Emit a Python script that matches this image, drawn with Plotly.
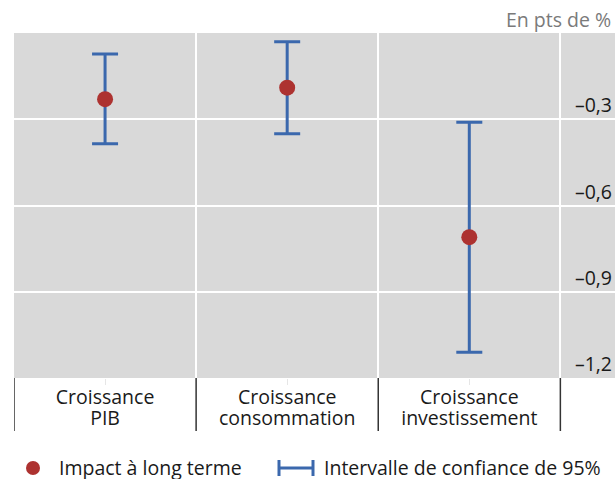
import plotly.graph_objects as go

# ---- data ----
categories = [["Croissance", "PIB"], ["Croissance", "consommation"], ["Croissance", "investissement"]]
impact = [-0.23, -0.19, -0.71]
ci_low = [-0.385, -0.35, -1.11]
ci_high = [-0.073, -0.03, -0.31]
y_tickvals = [-0.3, -0.6, -0.9, -1.2]
y_ticktext = ["–0,3", "–0,6", "–0,9", "–1,2"]
unit_label = "En pts de %"
legend_impact = "Impact à long terme"
legend_ci = "Intervalle de confiance de 95%"

# ---- style ----
W, H = 615, 479
ML, MR, MT, MB = 14, 0, 33, 101
FONT = "Open Sans"
FS = 19.5
RED = "#ad3230"
BLUE = "#3b68ad"
BG = "#d9d9d9"
TXT = "#1a1a1a"
XRANGE = [-0.5, len(categories) - 0.2]

xpos = list(range(len(categories)))
bounds = [i - 0.5 for i in range(len(categories) + 1)]
ticktext = ["<br>".join(f"<span style='font-size:{FS}px'>{p}</span>" for p in c) for c in categories]

fig = go.Figure()
# confidence intervals (base x axis)
fig.add_trace(go.Scatter(
    x=xpos, y=impact, mode="markers",
    marker=dict(color="rgba(0,0,0,0)", size=1),
    error_y=dict(type="data", symmetric=False,
                 array=[h - v for h, v in zip(ci_high, impact)],
                 arrayminus=[v - l for l, v in zip(ci_low, impact)],
                 color=BLUE, thickness=3, width=13),
    showlegend=False, hoverinfo="skip", xaxis="x", yaxis="y",
))
# long-term impact points (overlay x axis, drawn on top)
fig.add_trace(go.Scatter(
    x=xpos, y=impact, mode="markers",
    marker=dict(color=RED, size=16),
    showlegend=False, hoverinfo="skip", xaxis="x2", yaxis="y",
))

pw = W - ML - MR
ph = H - MT - MB


def px(x):
    return (x - ML) / pw


def py(y):
    return (H - MB - y) / ph


shapes = []
annotations = []
# category separators below the plot area
for b in bounds:
    shapes.append(dict(type="line", xref="x", yref="paper",
                       x0=b, x1=b, y0=py(431), y1=0,
                       line=dict(color="#333333", width=1.5), layer="above"))
ly = 467
shapes.append(dict(type="circle", xref="paper", yref="paper",
                   x0=px(26), x1=px(40), y0=py(ly - 6), y1=py(ly + 8),
                   fillcolor=RED, line=dict(width=0)))
annotations.append(dict(text=legend_impact, xref="paper", yref="paper",
                        x=px(57), y=py(ly), xanchor="left", yanchor="middle",
                        showarrow=False, font=dict(family=FONT, size=FS, color=TXT)))
shapes.append(dict(type="line", xref="paper", yref="paper",
                   x0=px(278), x1=px(314), y0=py(ly + 1), y1=py(ly + 1),
                   line=dict(color=BLUE, width=3)))
for xx in (279, 313):
    shapes.append(dict(type="line", xref="paper", yref="paper",
                       x0=px(xx), x1=px(xx), y0=py(ly - 7), y1=py(ly + 9),
                       line=dict(color=BLUE, width=3)))
annotations.append(dict(text=legend_ci, xref="paper", yref="paper",
                        x=px(322), y=py(ly), xanchor="left", yanchor="middle",
                        showarrow=False, font=dict(family=FONT, size=FS, color=TXT)))
annotations.append(dict(text=unit_label, xref="paper", yref="paper",
                        x=px(613), y=py(20), xanchor="right", yanchor="middle",
                        showarrow=False, font=dict(family=FONT, size=FS, color="#7a7a7a")))

fig.update_layout(
    width=W, height=H,
    margin=dict(l=ML, r=MR, t=MT, b=MB, pad=0),
    paper_bgcolor="white", plot_bgcolor=BG,
    font=dict(family=FONT, size=16, color=TXT),
    showlegend=False,
    shapes=shapes, annotations=annotations,
    xaxis=dict(
        range=XRANGE, tickmode="array", tickvals=xpos, ticktext=ticktext,
        showgrid=False, zeroline=False, showline=False,
        ticks="outside", ticklen=6, tickcolor="#e6e6e6", tickwidth=1,
        tickfont=dict(family=FONT, size=16, color=TXT),
    ),
    xaxis2=dict(
        overlaying="x", anchor="y", side="bottom",
        range=XRANGE, tickmode="array", tickvals=bounds,
        showticklabels=False, showgrid=True, gridcolor="white", gridwidth=2,
        zeroline=False, showline=False, ticks="",
    ),
    yaxis=dict(
        range=[-1.2, 0], side="right", tickmode="array",
        tickvals=y_tickvals, ticktext=y_ticktext,
        ticklabelposition="inside top",
        showgrid=True, gridcolor="white", gridwidth=2,
        zeroline=False, showline=False, ticks="",
        tickfont=dict(family=FONT, size=FS, color=TXT),
    ),
)

fig.write_html(
    "out.html",
    config={"displayModeBar": False},
    post_script="document.body.style.margin='0';document.body.style.overflow='hidden';",
)
